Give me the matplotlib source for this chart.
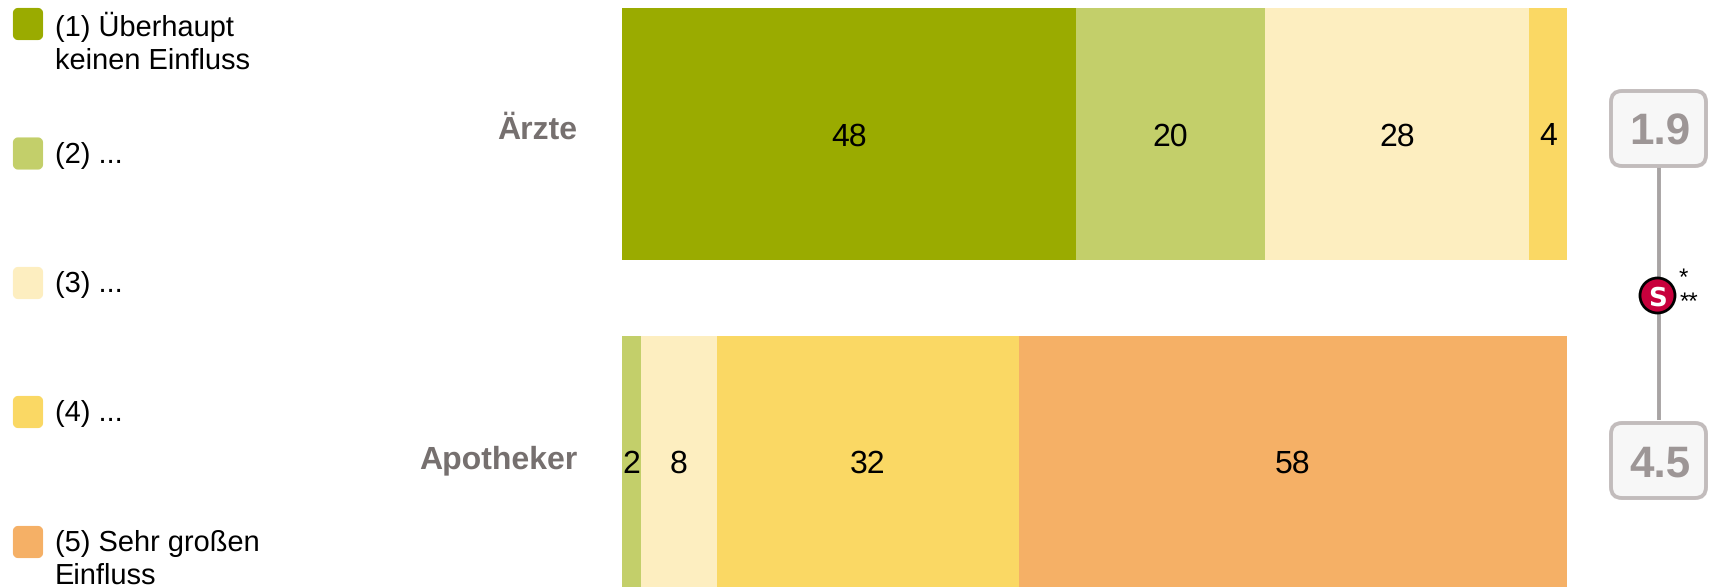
import matplotlib
matplotlib.use("Agg")
import matplotlib.pyplot as plt
from matplotlib.patches import FancyBboxPatch, Circle

W = 1714
H = 587

groups = ["Ärzte", "Apotheker"]
legend_labels = ["(1) Überhaupt\nkeinen Einfluss", "(2) ...", "(3) ...", "(4) ...", "(5) Sehr großen\nEinfluss"]
colors = ["#9aab00", "#c3cf6a", "#fdeec0", "#fad864", "#f5b066"]
values_aerzte = [48, 20, 28, 4, 0]
values_apotheker = [0, 2, 8, 32, 58]
means = ["1.9", "4.5"]

plt.rcParams["font.family"] = ["Liberation Sans", "DejaVu Sans"]
plt.rcParams["text.hinting"] = "no_hinting"
plt.rcParams["text.hinting_factor"] = 1
fig = plt.figure(figsize=(W / 100, H / 100), dpi=100)

# ganze Figur in Pixeln, fuer Legende und rechte Spalte
bg = fig.add_axes([0, 0, 1, 1])
bg.set_xlim(0, W)
bg.set_ylim(H, 0)
bg.axis("off")

# Balken
ax = fig.add_axes([622 / W, 0, 945 / W, 1 - 8 / H])
ax.set_xlim(0, 100)
ax.set_ylim(579, 0)  # Pixel ab Oberkante der Balken
ax.axis("off")
bar_y = [126, 453.5]
bar_h = [252, 251]
for i, vals in enumerate([values_aerzte, values_apotheker]):
    left = 0
    for j, v in enumerate(vals):
        if v == 0:
            continue
        ax.barh(bar_y[i], v, left=left, height=bar_h[i], color=colors[j], linewidth=0)
        ax.text(left + v / 2, bar_y[i] + 3, str(v), ha="center", va="center", fontsize=22.7, color="black")
        left += v

# Gruppennamen
bg.text(577, 130, groups[0], ha="right", va="center", fontsize=23, fontweight="bold", color="#76706f")
bg.text(577, 460, groups[1], ha="right", va="center", fontsize=23, fontweight="bold", color="#76706f")

# Legende
box_top = [8, 137.5, 267, 396, 526]
for y, c, lab in zip(box_top, colors, legend_labels):
    bg.add_patch(FancyBboxPatch((15, y + 2), 26, 28, boxstyle="round,pad=0,rounding_size=3",
                                facecolor=c, edgecolor=c, linewidth=3, joinstyle="round"))
    bg.text(55, y + 4, lab, ha="left", va="top", fontsize=21.2, color="black", linespacing=1.28)

# Mittelwerte rechts
bg.plot([1659, 1659], [167, 420], color="#a8a4a4", linewidth=2.8, zorder=1, solid_capstyle="butt")
for y0, m in zip([89, 421], means):
    bg.add_patch(FancyBboxPatch((1611, y0 + 2), 95, 75, boxstyle="round,pad=0,rounding_size=11",
                                facecolor="#f7f7f7", edgecolor="#c2bcbc", linewidth=2.8, zorder=2))
    bg.text(1660, y0 + 44, m, ha="center", va="center", fontsize=31.5, fontweight="bold",
            color="#9d9696", zorder=3)

bg.add_patch(Circle((1657.5, 295.5), 17.5, facecolor="#c8003c", edgecolor="black", linewidth=2, zorder=4))
bg.text(1657.5, 296, "S", ha="center", va="center_baseline", fontsize=19, fontweight="bold",
        family="DejaVu Sans", color="white", zorder=5)
bg.text(1683, 279, "*", ha="center", va="center", fontsize=17, color="black")
bg.text(1689, 303, "**", ha="center", va="center", fontsize=17, color="black")

fig.savefig("out.png", dpi=100)
